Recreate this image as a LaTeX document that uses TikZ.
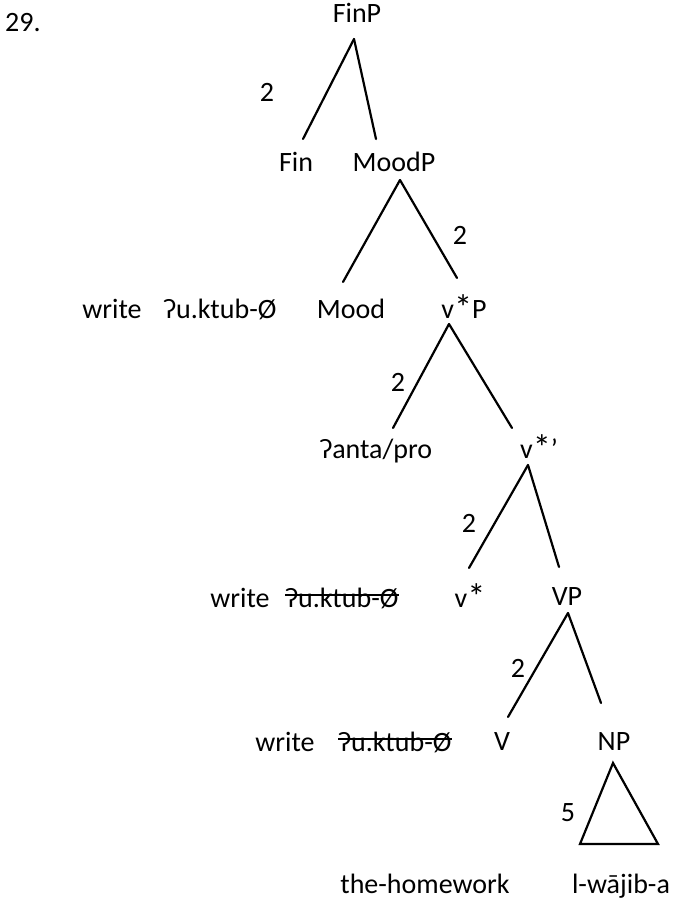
\documentclass[tikz,border=0pt]{standalone}
\usepackage{fontspec}
\setmainfont{Carlito}
\usepackage{tikz}
\usetikzlibrary{calc}
\newcommand{\vstar}{\raisebox{-2.5pt}{\scalebox{1.3}{*}}}

\begin{document}
\begin{tikzpicture}[
    x=1pt,y=-1pt,
    lbl/.style={font=\fontsize{28}{32}\selectfont,inner sep=0pt,anchor=base},
    num/.style={font=\fontsize{28}{32}\selectfont,inner sep=0pt},
    branch/.style={line width=2.2pt,line cap=round},
    strike/.style={line width=1.8pt}
    ]
    \useasboundingbox (0,0) rectangle (675,901);
    \node[lbl,anchor=base west] (ex) at (5,32) {29.};
    \node[lbl] (finp) at (357,23) {FinP};
    \node[lbl] (fin) at (296,172) {Fin};
    \node[lbl] (moodp) at (394,172) {MoodP};
    \node[lbl] (write1) at (112,318) {write};
    \node[lbl] (verb1) at (220,318) {ʔu.ktub-Ø};
    \node[lbl] (mood) at (351,318) {Mood};
    \node[lbl] (vsp) at (464,318) {v\vstar P};
    \node[lbl] (anta) at (376,458) {ʔanta/pro};
    \node[lbl] (vbar) at (539,458) {v\vstar’};
    \node[lbl] (write2) at (240,607) {write};
    \node[lbl] (verb2) at (342,607) {ʔu.ktub-Ø};
    \node[lbl] (vs) at (470,607) {v\vstar};
    \node[lbl] (vp) at (567,605) {VP};
    \node[lbl] (write3) at (285,751) {write};
    \node[lbl] (verb3) at (395,751) {ʔu.ktub-Ø};
    \node[lbl] (v) at (502,750) {V};
    \node[lbl] (np) at (614,750) {NP};
    \node[lbl] (gloss) at (425,893) {the-homework};
    \node[lbl] (arab) at (621,893) {l-wājib-a};
    % struck copies
    \draw[strike] ([yshift=12pt]verb2.base west) -- ([yshift=12pt]verb2.base east);
    \draw[strike] ([yshift=12pt]verb3.base west) -- ([yshift=12pt]verb3.base east);
    % branches
    \draw[branch] ($(finp.base)+(-3,16)$) -- ($(fin.base)+(7,-33)$);
    \draw[branch] ($(finp.base)+(-3,16)$) -- ($(moodp.base)+(-18,-33)$);
    \draw[branch] ($(moodp.base)+(6,8)$) -- ($(mood.base)+(-8,-36)$);
    \draw[branch] ($(moodp.base)+(6,8)$) -- ($(vsp.base)+(-7,-40)$);
    \draw[branch] ($(vsp.base)+(-15,6)$) -- ($(anta.base)+(17,-30)$);
    \draw[branch] ($(vsp.base)+(-15,6)$) -- ($(vbar.base)+(-27,-30)$);
    \draw[branch] ($(vbar.base)+(-11,7)$) -- ($(vs.base)+(-1,-39)$);
    \draw[branch] ($(vbar.base)+(-11,7)$) -- ($(vp.base)+(-8,-38)$);
    \draw[branch] ($(vp.base)+(1,8)$) -- ($(v.base)+(6,-33)$);
    \draw[branch] ($(vp.base)+(1,8)$) -- ($(np.base)+(-13,-47)$);
    \draw[branch] ($(np.base)+(-1,13)$) -- ($(arab.base)+(-41,-49)$)
      -- ($(arab.base)+(37,-49)$) -- cycle;
    % bar levels
    \node[num] (twoa) at (267,92) {2};
    \node[num] (twob) at (460,235) {2};
    \node[num] (twoc) at (398,382) {2};
    \node[num] (twod) at (469,523) {2};
    \node[num] (twoe) at (518,668) {2};
    \node[num] (five) at (568,813) {5};
\end{tikzpicture}
\end{document}
